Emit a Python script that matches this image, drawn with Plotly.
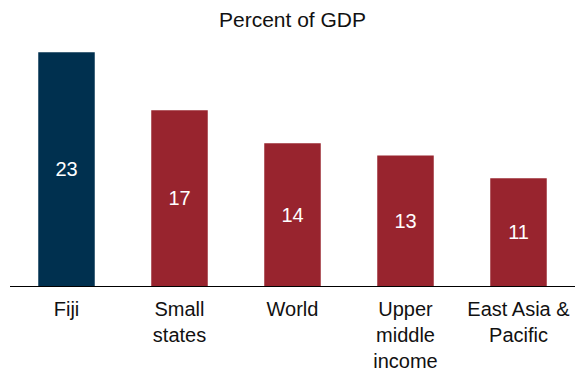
import plotly.graph_objects as go

categories = ["Fiji", "Small<br>states", "World", "Upper<br>middle<br>income", "East Asia &<br>Pacific"]
values = [23.0, 17.3, 14.05, 12.85, 10.6]
colors = ["#00304F", "#98242E", "#98242E", "#98242E", "#98242E"]
title_text = "Percent of GDP"

FONT = "Liberation Sans, Arial, Helvetica, sans-serif"

fig = go.Figure(go.Bar(
    x=categories,
    y=values,
    marker=dict(color=colors, line=dict(width=0)),
    texttemplate="%{y:.0f}",
    textposition="inside",
    insidetextanchor="middle",
    textangle=0,
    textfont=dict(color="white", size=20, family=FONT),
    hoverinfo="skip",
))

fig.update_layout(
    width=575,
    height=373,
    margin=dict(l=10, r=0, t=40, b=87),
    paper_bgcolor="white",
    plot_bgcolor="white",
    bargap=0.5,
    showlegend=False,
    font=dict(family=FONT, size=20, color="#111111"),
    title=dict(text=title_text, x=0.5, xref="paper", xanchor="center",
               y=1 - 20 / 373, yref="container", yanchor="middle",
               font=dict(size=21, family=FONT, color="#111111")),
    xaxis=dict(showline=True, linecolor="black", linewidth=1, ticks="",
               showgrid=False, zeroline=False, tickfont=dict(size=20),
               ticklabelstandoff=5),
    yaxis=dict(visible=False, range=[0, 24.21], showgrid=False, zeroline=False),
)

fig.write_html(
    "out.html",
    config={"displayModeBar": False, "staticPlot": True},
    post_script="document.body.style.margin='0';document.body.style.padding='0';document.body.style.overflow='hidden';",
)
